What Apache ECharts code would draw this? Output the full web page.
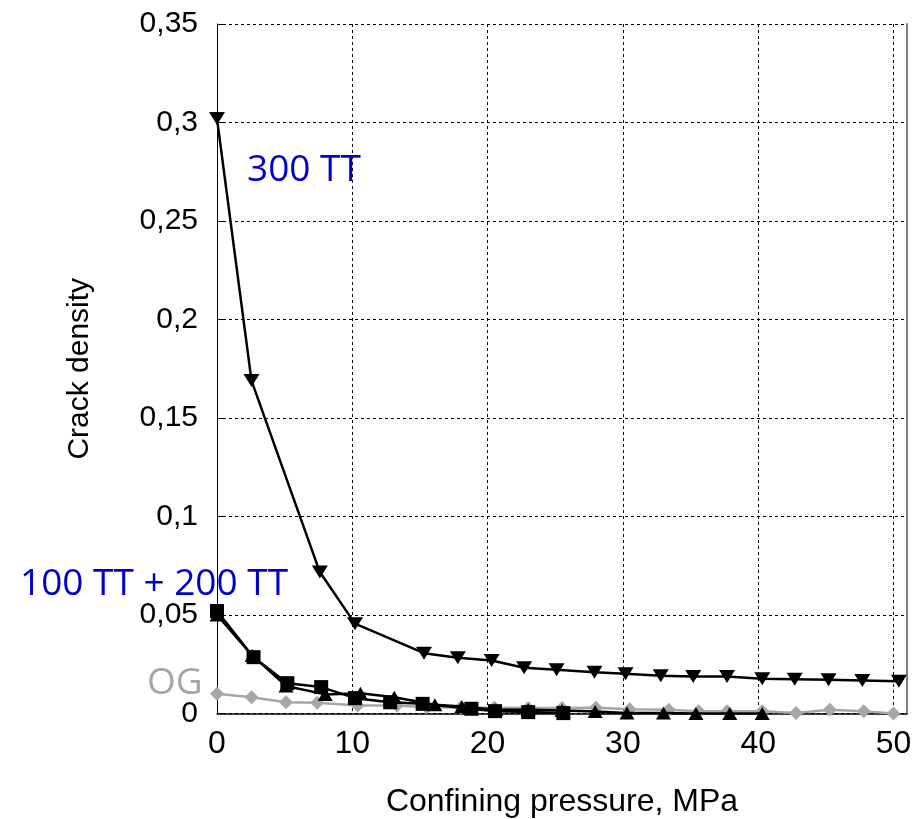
<!DOCTYPE html>
<html>
<head>
<meta charset="utf-8">
<script src="https://cdn.jsdelivr.net/npm/echarts@6/dist/echarts.min.js"></script>
<style>
html,body{margin:0;padding:0;background:#fff;}
#chart{width:914px;height:819px;}
</style>
</head>
<body>
<div id="chart"></div>
<script>
// ---- data ----
var tt300X = [0, 2.55, 7.6, 10.2, 15.3, 17.8, 20.3, 22.7, 25.1, 27.9, 30.2, 32.8, 35.2, 37.7, 40.3, 42.7, 45.2, 47.7, 50.4];
var tt300Y = [0.302, 0.169, 0.0718, 0.0456, 0.0306, 0.0283, 0.0269, 0.0232, 0.0222, 0.0210, 0.0202, 0.0192, 0.0188, 0.0188, 0.0176, 0.0174, 0.0171, 0.0168, 0.0164];

var sqX = [0, 2.7, 5.2, 7.7, 10.2, 12.8, 15.2, 18.8, 20.55, 23.0, 25.6];
var sqY = [0.052, 0.0286, 0.0154, 0.0134, 0.0078, 0.0057, 0.0049, 0.0024, 0.0012, 0.0007, 0.0002];

var triX = [0, 2.6, 5.1, 8.0, 10.6, 13.1, 16.1, 18.1, 20.6, 23.0, 25.5, 27.95, 30.3, 33.0, 35.4, 37.9, 40.3];
var triY = [0.050, 0.0295, 0.014, 0.0097, 0.0103, 0.0083, 0.0044, 0.0036, 0.0019, 0.0019, 0.0015, 0.001, 0.0002, 0.0002, 0.0, 0.0, 0.0];

var ogX = [0, 2.55, 5.1, 7.4, 10.4, 13.3, 15.5, 18.0, 20.5, 23.0, 25.5, 28.0, 30.5, 33.4, 35.6, 37.7, 40.3, 42.8, 45.3, 47.8, 50.0];
var ogY = [0.0100, 0.0083, 0.0057, 0.0054, 0.0040, 0.0040, 0.0032, 0.0030, 0.0029, 0.0028, 0.0028, 0.0029, 0.0022, 0.0019, 0.0012, 0.0012, 0.0012, 0.0002, 0.0019, 0.0012, 0.0];

var xTickLabels = [0, 10, 20, 30, 40, 50];
var xTitle = 'Confining pressure, MPa';
var yTitle = 'Crack density';
var labels = ['300 TT', '100 TT + 200 TT', 'OG'];

function pairs(xs, ys) { return xs.map(function (x, i) { return [x, ys[i]]; }); }

var chart = echarts.init(document.getElementById('chart'));
var option = {
  animation: false,
  backgroundColor: '#ffffff',
  grid: { left: 217, right: 7, top: 24, bottom: 105.5, containLabel: false, outerBoundsMode: 'none' },
  xAxis: {
    type: 'value', min: 0, max: 51, interval: 10,
    name: xTitle, nameLocation: 'middle', nameGap: 73,
    nameTextStyle: { fontFamily: 'Liberation Sans', fontSize: 32, color: '#000' },
    axisLine: { show: true, lineStyle: { color: '#000', width: 1.5 } },
    axisTick: { show: false },
    axisLabel: {
      margin: 15, fontFamily: 'Liberation Sans', fontSize: 32, color: '#000',
      showMaxLabel: false,
      formatter: function (v) { return xTickLabels.indexOf(Math.round(v * 1000) / 1000) >= 0 ? String(v) : ''; }
    },
    splitLine: { show: true, lineStyle: { color: '#000', type: [3, 3], width: 1 } }
  },
  yAxis: [{
    type: 'value', min: 0, max: 0.35, interval: 0.05,
    name: yTitle, nameLocation: 'middle', nameGap: 122,
    nameTextStyle: { fontFamily: 'Liberation Sans', fontSize: 30, color: '#000' },
    axisLine: { show: true, lineStyle: { color: '#000', width: 1 } },
    axisTick: { show: true, inside: true, length: 6, lineStyle: { color: '#000' } },
    axisLabel: {
      margin: 19, fontFamily: 'Liberation Sans', fontSize: 30, color: '#000',
      formatter: function (v) { return String(parseFloat(v.toFixed(2))).replace('.', ','); }
    },
    splitLine: { show: true, lineStyle: { color: '#000', type: [3, 3], width: 1 } }
  }, {
    type: 'value', min: 0, max: 0.35, position: 'right',
    axisLine: { show: true, lineStyle: { color: '#808080', width: 2 } },
    axisTick: { show: false }, axisLabel: { show: false }, splitLine: { show: false }
  }],
  series: [
    {
      type: 'line', data: pairs(ogX, ogY), symbol: 'diamond', symbolSize: [14, 14],
      lineStyle: { color: '#a6a6a6', width: 2.5 }, itemStyle: { color: '#a6a6a6' }, z: 2
    },
    {
      type: 'line', data: pairs(triX, triY), symbol: 'triangle', symbolSize: [15, 13],
      lineStyle: { color: '#000', width: 2.5 }, itemStyle: { color: '#000' }, z: 3
    },
    {
      type: 'line', data: pairs(sqX, sqY), symbol: 'rect', symbolSize: 14,
      lineStyle: { color: '#000', width: 2.5 }, itemStyle: { color: '#000' }, z: 4
    },
    {
      type: 'line', data: pairs(tt300X, tt300Y), symbol: 'triangle', symbolRotate: 180, symbolSize: [16, 13],
      lineStyle: { color: '#000', width: 2.5 }, itemStyle: { color: '#000' }, z: 5
    }
  ],
  graphic: [
    { type: 'text', left: 247, top: 152, z: 100,
      style: { text: labels[0], fill: '#0000cc', font: '37px "Open Sans"' } },
    { type: 'text', left: 20, top: 566, z: 100,
      style: { text: labels[1], fill: '#0000cc', font: '37px "Open Sans"' } },
    { type: 'text', left: 147, top: 665, z: 100,
      style: { text: labels[2], fill: '#a6a6a6', font: '37px "Open Sans"' } }
  ]
};
chart.setOption(option);
</script>
</body>
</html>
